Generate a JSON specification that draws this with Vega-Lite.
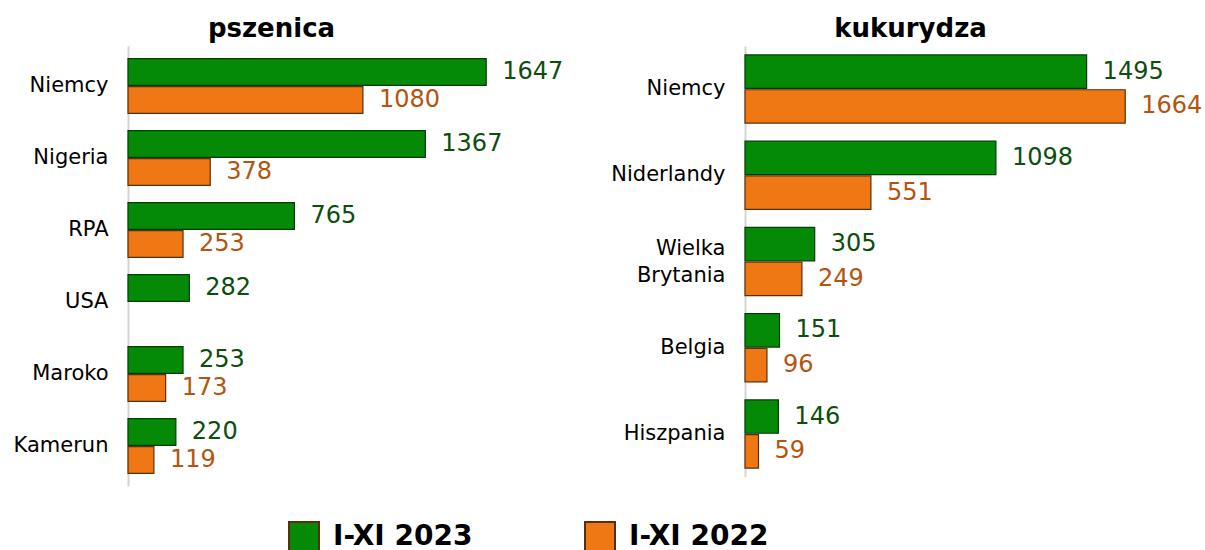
{
  "$schema": "https://vega.github.io/schema/vega-lite/v6.json",
  "padding": {"left": 13, "top": 16, "right": 0, "bottom": 0},
  "background": "white",
  "config": {"view": {"stroke": null}, "font": "DejaVu Sans", "concat": {"spacing": 46}},
  "datasets": {
    "pszenica": [
      {"kraj": "Niemcy", "okres": "I-XI 2023", "wartosc": 1647},
      {"kraj": "Niemcy", "okres": "I-XI 2022", "wartosc": 1080},
      {"kraj": "Nigeria", "okres": "I-XI 2023", "wartosc": 1367},
      {"kraj": "Nigeria", "okres": "I-XI 2022", "wartosc": 378},
      {"kraj": "RPA", "okres": "I-XI 2023", "wartosc": 765},
      {"kraj": "RPA", "okres": "I-XI 2022", "wartosc": 253},
      {"kraj": "USA", "okres": "I-XI 2023", "wartosc": 282},
      {"kraj": "Maroko", "okres": "I-XI 2023", "wartosc": 253},
      {"kraj": "Maroko", "okres": "I-XI 2022", "wartosc": 173},
      {"kraj": "Kamerun", "okres": "I-XI 2023", "wartosc": 220},
      {"kraj": "Kamerun", "okres": "I-XI 2022", "wartosc": 119}
    ],
    "kukurydza": [
      {"kraj": "Niemcy", "okres": "I-XI 2023", "wartosc": 1495},
      {"kraj": "Niemcy", "okres": "I-XI 2022", "wartosc": 1664},
      {"kraj": "Niderlandy", "okres": "I-XI 2023", "wartosc": 1098},
      {"kraj": "Niderlandy", "okres": "I-XI 2022", "wartosc": 551},
      {"kraj": "Wielka Brytania", "okres": "I-XI 2023", "wartosc": 305},
      {"kraj": "Wielka Brytania", "okres": "I-XI 2022", "wartosc": 249},
      {"kraj": "Belgia", "okres": "I-XI 2023", "wartosc": 151},
      {"kraj": "Belgia", "okres": "I-XI 2022", "wartosc": 96},
      {"kraj": "Hiszpania", "okres": "I-XI 2023", "wartosc": 146},
      {"kraj": "Hiszpania", "okres": "I-XI 2022", "wartosc": 59}
    ]
  },
  "resolve": {"scale": {"yOffset": "independent", "y": "independent"}},
  "hconcat": [
    {
      "title": {"text": "pszenica", "fontSize": 26, "fontWeight": "bold", "color": "black", "dx": -74, "offset": 4},
      "width": 435,
      "height": 440,
      "data": {"name": "pszenica"},
      "encoding": {
        "y": {"field": "kraj", "type": "nominal", "sort": ["Niemcy", "Nigeria", "RPA", "USA", "Maroko", "Kamerun"],
          "scale": {"paddingInner": 0.24, "paddingOuter": 0.176},
          "axis": {"title": null, "ticks": false, "domainColor": "#d4d4d4", "domainWidth": 2, "labelFontSize": 21, "labelPadding": 20, "labelColor": "black"}},
        "x": {"field": "wartosc", "type": "quantitative", "scale": {"domain": [0, 2000]}, "axis": null},
        "yOffset": {"field": "okres", "type": "nominal", "sort": ["I-XI 2023", "I-XI 2022"], "scale": {"paddingInner": 0.04}}
      },
      "layer": [
        {
          "mark": {"type": "bar", "strokeWidth": 1.2},
          "encoding": {
            "color": {"field": "okres", "type": "nominal", "scale": {"domain": ["I-XI 2023", "I-XI 2022"], "range": ["#058a08", "#f07814"]},
              "legend": {"orient": "none", "legendX": 160, "legendY": 475, "direction": "horizontal", "title": null, "symbolType": "square", "symbolSize": 900, "symbolStrokeColor": "black", "symbolStrokeWidth": 2, "symbolOpacity": 1, "labelFontSize": 28, "labelFontWeight": "bold", "labelColor": "black", "columnPadding": 108, "labelOffset": 13, "padding": 0, "labelLimit": 300}},
            "stroke": {"condition": {"test": "datum.okres == 'I-XI 2023'", "value": "#033d05"}, "value": "#5a2e08"}
          }
        },
        {
          "mark": {"type": "text", "align": "left", "baseline": "middle", "dx": 16, "fontSize": 24},
          "encoding": {
            "text": {"field": "wartosc", "type": "quantitative"},
            "color": {"condition": {"test": "datum.okres == 'I-XI 2023'", "value": "#0d4d0d"}, "value": "#b3540f"}
          }
        }
      ]
    },
    {
      "title": {"text": "kukurydza", "fontSize": 26, "fontWeight": "bold", "color": "black", "dx": -63, "offset": 4},
      "width": 457,
      "height": 431,
      "data": {"name": "kukurydza"},
      "encoding": {
        "y": {"field": "kraj", "type": "nominal", "sort": ["Niemcy", "Niderlandy", "Wielka Brytania", "Belgia", "Hiszpania"],
          "scale": {"paddingInner": 0.21, "paddingOuter": 0.104},
          "axis": {"title": null, "ticks": false, "domainColor": "#d4d4d4", "domainWidth": 2, "labelFontSize": 21, "labelPadding": 20, "labelColor": "black", "labelLineHeight": 27,
            "labelOffset": {"condition": {"test": "datum.value == 'Wielka Brytania'", "value": -13}, "value": 0},
            "labelExpr": "datum.label == 'Wielka Brytania' ? ['Wielka', 'Brytania'] : datum.label"}},
        "x": {"field": "wartosc", "type": "quantitative", "scale": {"domain": [0, 2000]}, "axis": null},
        "yOffset": {"field": "okres", "type": "nominal", "sort": ["I-XI 2023", "I-XI 2022"], "scale": {"paddingInner": 0.04}}
      },
      "layer": [
        {
          "mark": {"type": "bar", "strokeWidth": 1.2},
          "encoding": {
            "color": {"field": "okres", "type": "nominal"},
            "stroke": {"condition": {"test": "datum.okres == 'I-XI 2023'", "value": "#033d05"}, "value": "#5a2e08"}
          }
        },
        {
          "mark": {"type": "text", "align": "left", "baseline": "middle", "dx": 16, "fontSize": 24},
          "encoding": {
            "text": {"field": "wartosc", "type": "quantitative"},
            "color": {"condition": {"test": "datum.okres == 'I-XI 2023'", "value": "#0d4d0d"}, "value": "#b3540f"}
          }
        }
      ]
    }
  ]
}
